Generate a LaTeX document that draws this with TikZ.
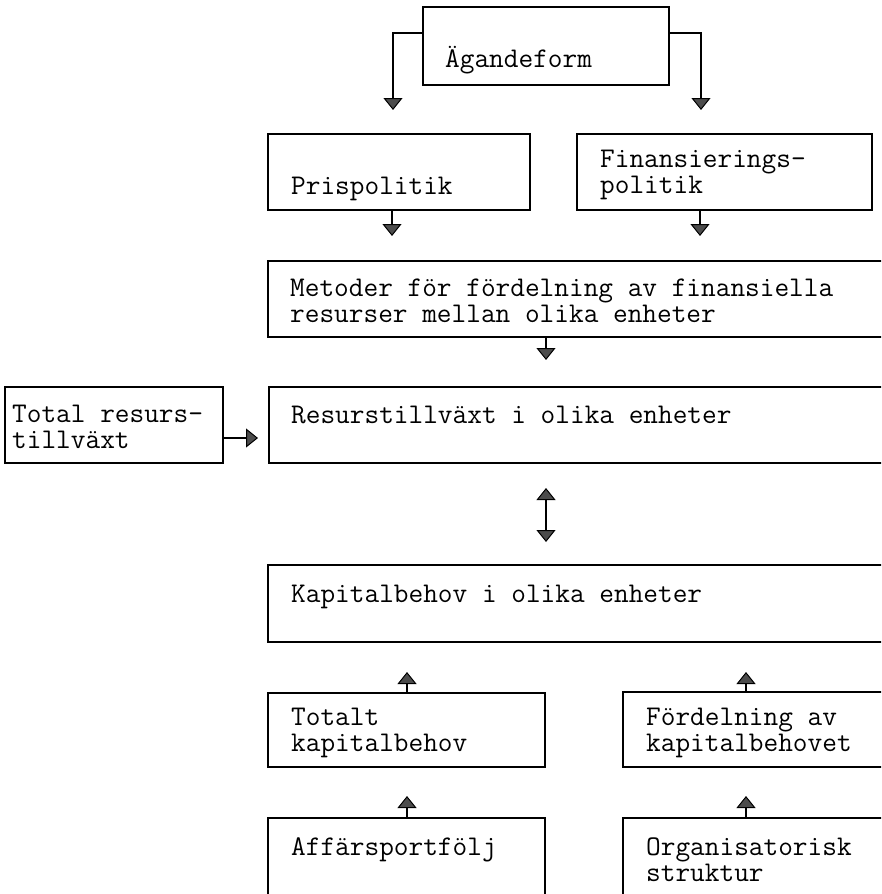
\documentclass[tikz,border=0pt]{standalone}
\usepackage{fontspec}
\usetikzlibrary{arrows.meta}
\begin{document}
\begin{tikzpicture}[x=1pt,y=-1pt,
  box/.style={draw, line width=2.2pt, anchor=north west, inner sep=0pt, outer sep=0pt},
  lbl/.style={anchor=base west, inner sep=0pt, align=left,
    font=\fontsize{28.5}{26}\ttfamily\selectfont\addfontfeature{RawFeature={embolden=2;extend=1.04}}},
  tipfill/.tip={Triangle[width=19pt,length=12pt,fill=black!70,line width=1pt]},
  arr/.style={line width=2.2pt, -tipfill},
  arrboth/.style={line width=2.2pt, tipfill-tipfill}]
\useasboundingbox (0,0) rectangle (881,894);
\clip (0,0) rectangle (881,894);

% boxes
\node[box, minimum width=246pt, minimum height=78pt] (ag)   at (423,7)   {};
\node[box, minimum width=262pt, minimum height=76pt] (pris) at (268,134) {};
\node[box, minimum width=295pt, minimum height=76pt] (fin)  at (577,134) {};
\node[box, minimum width=640pt, minimum height=76pt] (met)  at (268,261) {};
\node[box, minimum width=218pt, minimum height=76pt] (tot)  at (5,387)   {};
\node[box, minimum width=640pt, minimum height=76pt] (res)  at (269,387) {};
\node[box, minimum width=640pt, minimum height=77pt] (kap)  at (268,565) {};
\node[box, minimum width=277pt, minimum height=74pt] (totk) at (268,693) {};
\node[box, minimum width=300pt, minimum height=75pt] (ford) at (623,692) {};
\node[box, minimum width=277pt, minimum height=100pt] (aff) at (268,818) {};
\node[box, minimum width=300pt, minimum height=100pt] (org) at (623,818) {};

% texts (base anchor sits on the last line)
\node[lbl] (tag)   at (445,67)  {Ägandeform};
\node[lbl] (tpris) at (291,194) {Prispolitik};
\node[lbl] (tfin)  at (600,193) {Finansierings-\\politik};
\node[lbl] (tmet)  at (290,322) {Metoder för fördelning av finansiella\\resurser mellan olika enheter};
\node[lbl] (ttot)  at (12,448)  {Total resurs-\\tillväxt};
\node[lbl] (tres)  at (291,423) {Resurstillväxt i olika enheter};
\node[lbl] (tkap)  at (291,602) {Kapitalbehov i olika enheter};
\node[lbl] (ttotk) at (291,751) {Totalt\\kapitalbehov};
\node[lbl] (tford) at (646,751) {Fördelning av\\kapitalbehovet};
\node[lbl] (taff)  at (291,855) {Affärsportfölj};
\node[lbl] (torg)  at (646,881) {Organisatorisk\\struktur};

% arrow end points
\coordinate (a1) at (393,110);
\coordinate (a2) at (701,110);
\coordinate (a3) at (392,236);
\coordinate (a4) at (700,236);
\coordinate (a5) at (546,360);
\coordinate (a6) at (258,438);
\coordinate (d1) at (546,488);
\coordinate (d2) at (546,542);
\coordinate (a7) at (407,672);
\coordinate (a8) at (746,672);
\coordinate (a9) at (407,796);
\coordinate (a10) at (746,796);

% connectors
\draw[arr] ([yshift=-26pt]ag.north west) -| (a1);
\draw[arr] ([yshift=-26pt]ag.north east) -| (a2);
\draw[arr] (a3 |- pris.south) -- (a3);
\draw[arr] (a4 |- fin.south) -- (a4);
\draw[arr] (a5 |- met.south) -- (a5);
\draw[arr] (tot.east |- a6) -- (a6);
\draw[arrboth] (d1) -- (d2);
\draw[arr] (a7 |- totk.north) -- (a7);
\draw[arr] (a8 |- ford.north) -- (a8);
\draw[arr] (a9 |- aff.north) -- (a9);
\draw[arr] (a10 |- org.north) -- (a10);
\end{tikzpicture}
\end{document}
